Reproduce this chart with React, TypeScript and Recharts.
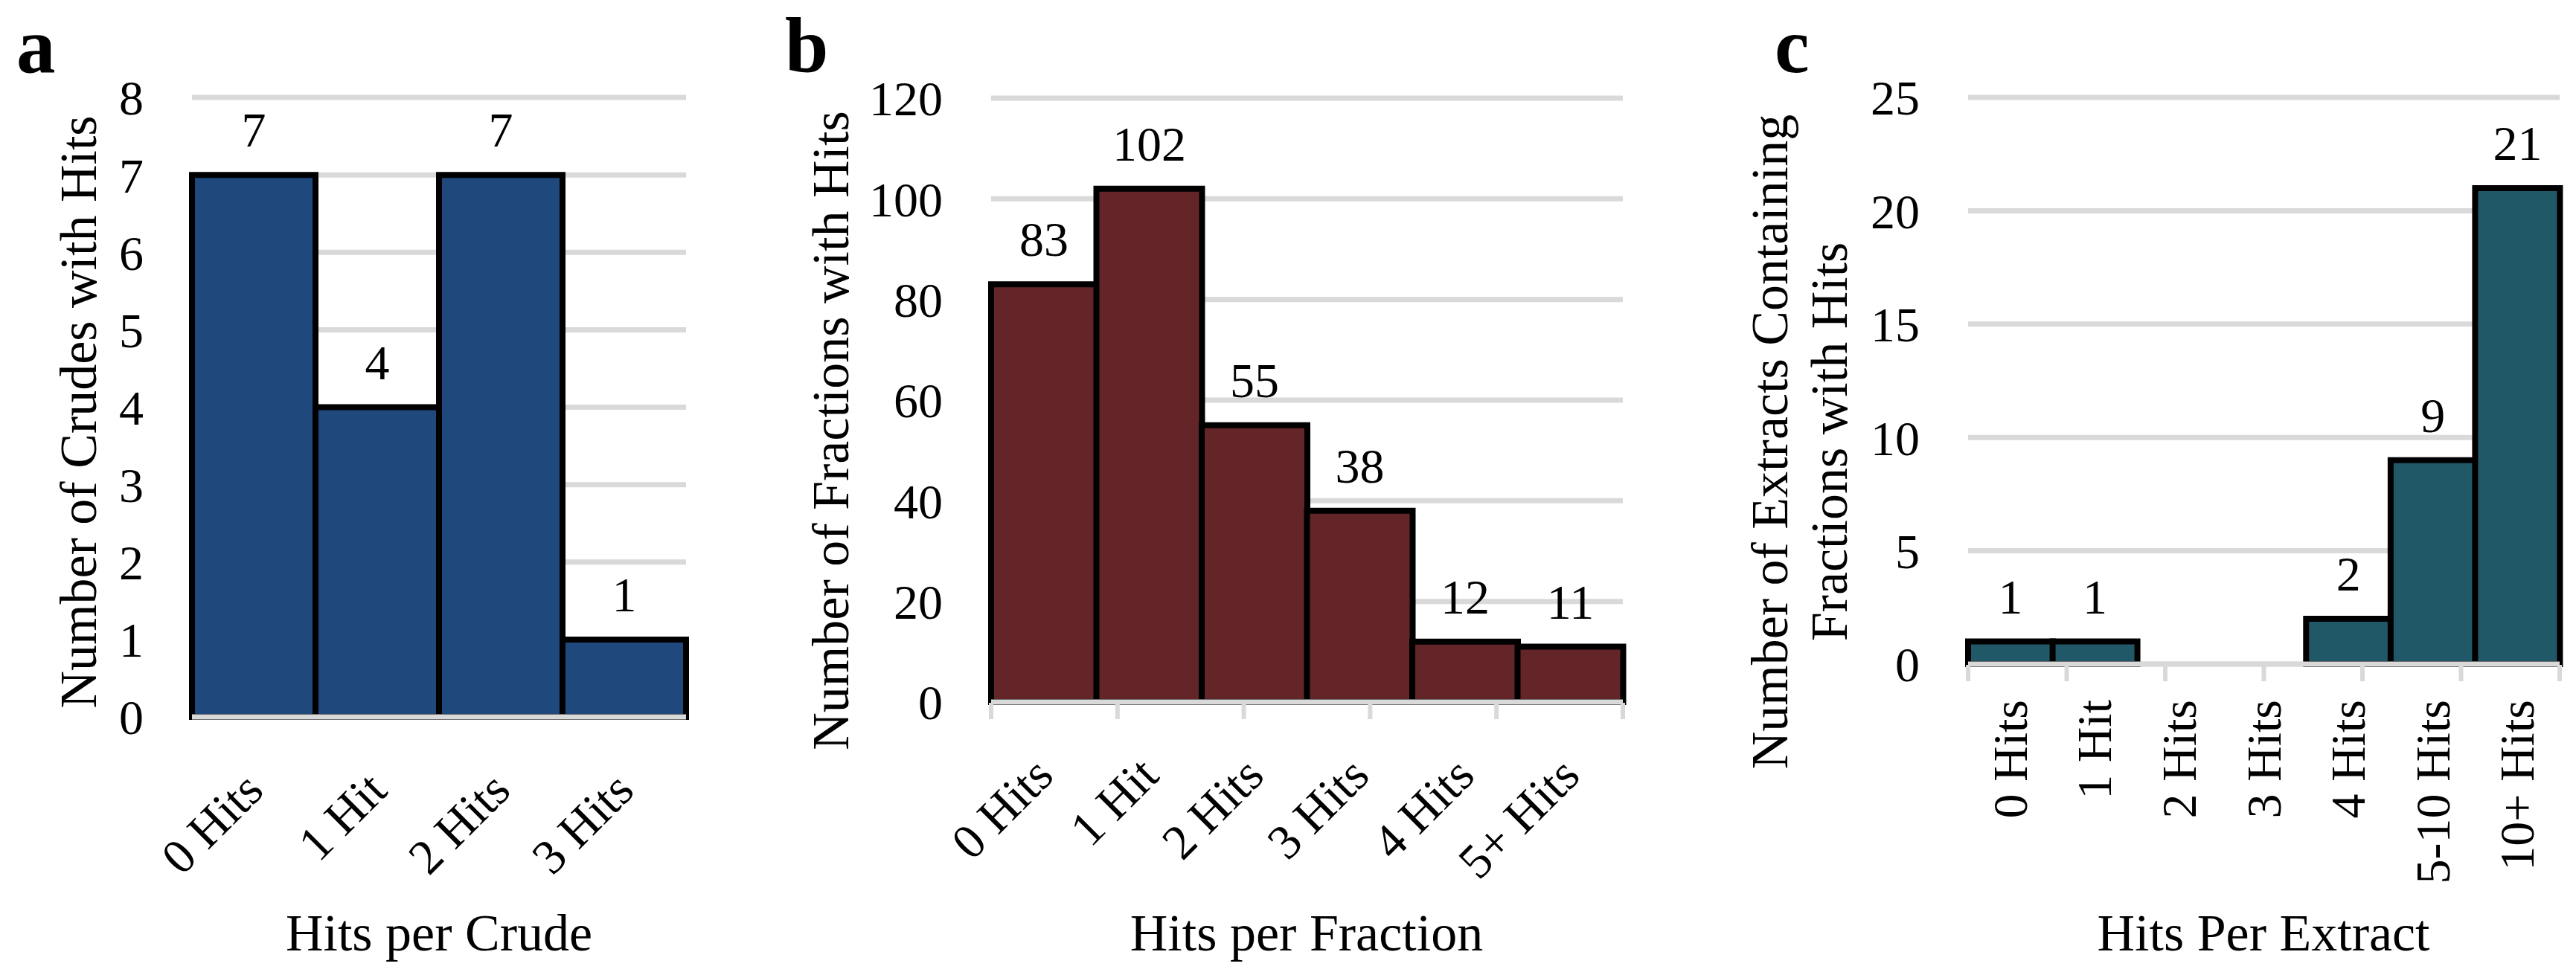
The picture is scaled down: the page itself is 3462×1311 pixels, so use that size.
import React from 'react';
import { Bar, BarChart, CartesianGrid, LabelList, XAxis, YAxis } from 'recharts';

// panel a
const crudeCats = ['0 Hits', '1 Hit', '2 Hits', '3 Hits'];
const crudeCounts = [7, 4, 7, 1];
const crudeTicks = [0, 1, 2, 3, 4, 5, 6, 7, 8];

// panel b
const fractionCats = ['0 Hits', '1 Hit', '2 Hits', '3 Hits', '4 Hits', '5+ Hits'];
const fractionCounts = [83, 102, 55, 38, 12, 11];
const fractionTicks = [0, 20, 40, 60, 80, 100, 120];

// panel c (2 and 3 hits are empty)
const extractCats = ['0 Hits', '1 Hit', '2 Hits', '3 Hits', '4 Hits', '5-10 Hits', '10+ Hits'];
const extractCounts = [1, 1, 0, 0, 2, 9, 21];
const extractTicks = [0, 5, 10, 15, 20, 25];

const FONT = '"Liberation Serif", "Times New Roman", serif';
const GRID = '#d9d9d9';
const TICK_FS = 66;
const TITLE_FS = 70;

const toRows = (cats: string[], vals: number[]) => cats.map((name, i) => ({ name, value: vals[i] }));

const SlantTick = ({ x, y, payload }: any) => {
  const ax = x + 16;
  const ay = y + 100;
  return (
    <text x={ax} y={ay} transform={`rotate(-45 ${ax} ${ay})`} textAnchor="end"
      fontSize={TICK_FS} fontFamily={FONT} fill="#000">
      {payload.value}
    </text>
  );
};

const UprightTick = ({ x, y, payload }: any) => {
  const ax = x + 22;
  const ay = y + 46;
  return (
    <text x={ax} y={ay} transform={`rotate(-90 ${ax} ${ay})`} textAnchor="end"
      fontSize={TICK_FS} fontFamily={FONT} fill="#000">
      {payload.value}
    </text>
  );
};

const NoTick = () => <g />;

interface PanelProps {
  cats: string[];
  vals: number[];
  ticks: number[];
  color: string;
  left: number;
  width: number;
  plotLeft: number;
  plotRight: number;
  plotTop: number;
  plotBottom: number;
  upright?: boolean;
  edgeTicks?: boolean;
}

function Panel({ cats, vals, ticks, color, left, width, plotLeft, plotRight, plotTop, plotBottom, upright, edgeTicks }: PanelProps) {
  const height = 1311;
  const data = toRows(cats, vals);
  const edges = cats.map((_, i) => i).concat(cats.length);
  const axisRoom = edgeTicks ? 2 : 1;
  return (
    <div style={{ position: 'absolute', left, top: 0, width, height }}>
      <BarChart
        width={width}
        height={height}
        data={data}
        barCategoryGap={0}
        barGap={0}
        margin={{ top: plotTop, right: left + width - plotRight, bottom: height - plotBottom - axisRoom, left: 0 }}
      >
        <CartesianGrid vertical={false} stroke={GRID} strokeWidth={7} />
        <XAxis
          dataKey="name"
          height={1}
          interval={0}
          tickSize={0}
          tickLine={false}
          axisLine={{ stroke: GRID, strokeWidth: 7 }}
          tick={upright ? <UprightTick /> : <SlantTick />}
        />
        {edgeTicks && (
          <XAxis
            xAxisId="edge"
            type="number"
            domain={[0, cats.length]}
            ticks={edges}
            allowDataOverflow
            height={1}
            interval={0}
            axisLine={false}
            tickSize={22}
            tickLine={{ stroke: GRID, strokeWidth: 6 }}
            tick={<NoTick />}
          />
        )}
        <YAxis
          width={plotLeft - left}
          domain={[0, ticks[ticks.length - 1]]}
          ticks={ticks}
          interval={0}
          axisLine={false}
          tickLine={false}
          tickSize={0}
          tickMargin={65}
          tick={{ fill: '#000', fontSize: TICK_FS, fontFamily: FONT }}
        />
        <Bar dataKey="value" fill={color} stroke="#000" strokeWidth={8} isAnimationActive={false}>
          <LabelList
            dataKey="value"
            position="top"
            offset={38}
            formatter={(v: any) => (v ? v : '')}
            fill="#000"
            fontSize={TICK_FS}
            fontFamily={FONT}
          />
        </Bar>
      </BarChart>
    </div>
  );
}

export default function App() {
  return (
    <div style={{ position: 'absolute', left: 0, top: 0, width: 3462, height: 1311, background: '#fff' }}>
      <Panel cats={crudeCats} vals={crudeCounts} ticks={crudeTicks} color="#1f497d"
        left={0} width={960} plotLeft={258} plotRight={922} plotTop={131} plotBottom={964} />
      <Panel cats={fractionCats} vals={fractionCounts} ticks={fractionTicks} color="#632528"
        left={1000} width={1230} plotLeft={1332} plotRight={2181} plotTop={132} plotBottom={944} edgeTicks />
      <Panel cats={extractCats} vals={extractCounts} ticks={extractTicks} color="#215868"
        left={2280} width={1182} plotLeft={2645} plotRight={3440} plotTop={131} plotBottom={893} upright edgeTicks />

      <svg width={3462} height={1311} style={{ position: 'absolute', left: 0, top: 0, pointerEvents: 'none' }}
        fontFamily={FONT} fill="#000">
        <text x={22} y={97} fontSize={105} fontWeight="bold">a</text>
        <text x={1055} y={97} fontSize={105} fontWeight="bold">b</text>
        <text x={2385} y={97} fontSize={105} fontWeight="bold">c</text>

        <text x={590} y={1278} fontSize={TITLE_FS} textAnchor="middle">Hits per Crude</text>
        <text x={1756} y={1278} fontSize={TITLE_FS} textAnchor="middle">Hits per Fraction</text>
        <text x={3042} y={1278} fontSize={TITLE_FS} textAnchor="middle">Hits Per Extract</text>

        <text x={129} y={554} fontSize={TITLE_FS} textAnchor="middle" transform="rotate(-90 129 554)">
          Number of Crudes with Hits
        </text>
        <text x={1140} y={579} fontSize={TITLE_FS} textAnchor="middle" transform="rotate(-90 1140 579)">
          Number of Fractions with Hits
        </text>
        <text x={2402} y={594} fontSize={TITLE_FS} textAnchor="middle" transform="rotate(-90 2402 594)">
          Number of Extracts Containing
        </text>
        <text x={2482} y={594} fontSize={TITLE_FS} textAnchor="middle" transform="rotate(-90 2482 594)">
          Fractions with Hits
        </text>
      </svg>
    </div>
  );
}
